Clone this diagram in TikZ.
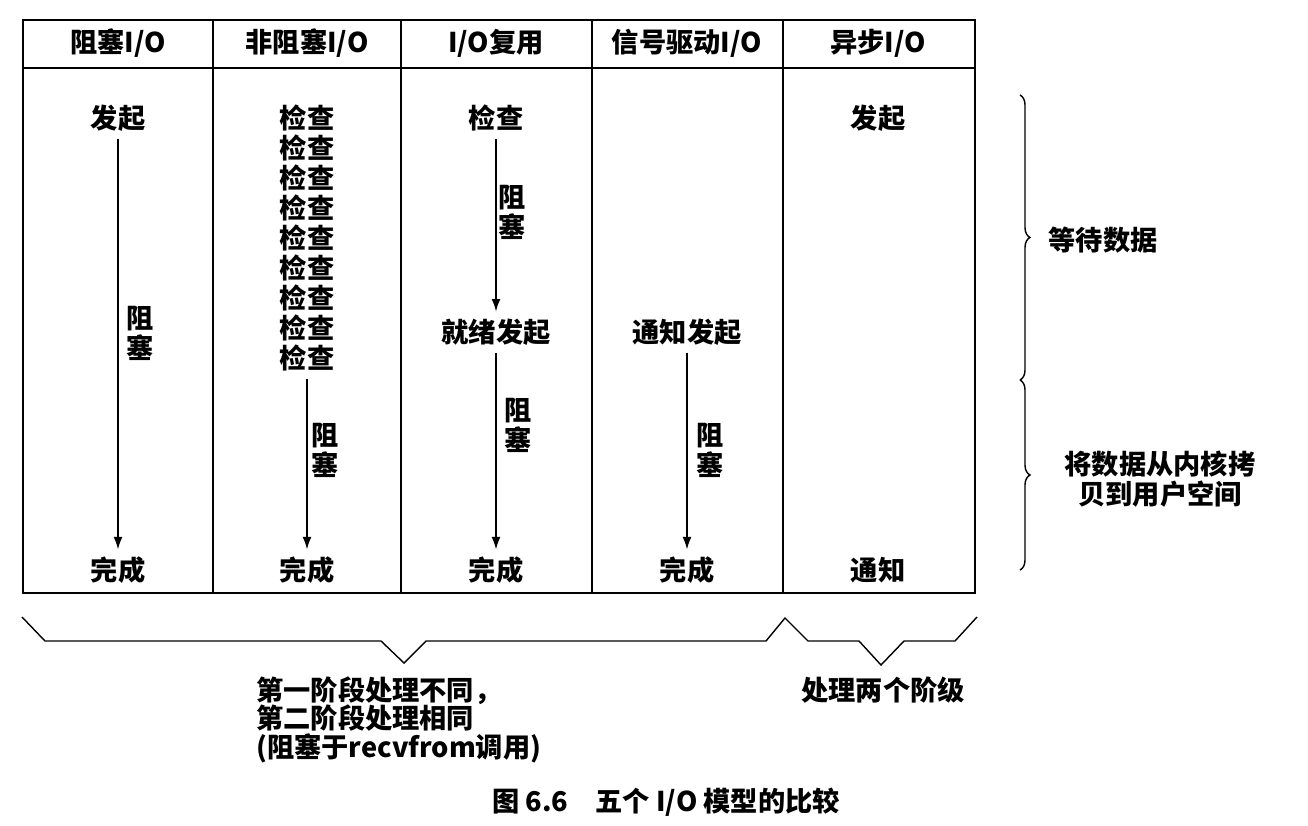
\documentclass[tikz,border=0pt]{standalone}
\usepackage{fontspec}
\setmainfont{Noto Sans CJK SC}
\usetikzlibrary{arrows.meta, decorations.pathreplacing}

\begin{document}
\begin{tikzpicture}[x=0.02cm,y=-0.02cm,
  txt/.style={inner sep=4pt,font=\bfseries\fontsize{15.5}{17}\selectfont},
  blk/.style={txt,align=center},
  flow/.style={-{Latex[length=7pt,width=5pt]},line width=0.6pt},
  frame/.style={line width=0.8pt}]

\useasboundingbox (0,0) rectangle (1308,825);

% Table
\draw[frame] (23,20) rectangle (975,593);
\draw[line width=1.7pt] (23,68) -- (975,68);
\foreach \x in {213,401,592,783} \draw[frame] (\x,20) -- (\x,593);

% Headers
\node[txt] (h1) at (118,43) {阻塞I/O};
\node[txt] (h2) at (307,43) {非阻塞I/O};
\node[txt] (h3) at (496,43) {I/O复用};
\node[txt] (h4) at (687,43) {信号驱动I/O};
\node[txt] (h5) at (878,43) {异步I/O};

% Blocking I/O
\node[txt] (blk1) at (118,118) {发起};
\node[txt] (blk2) at (118,570) {完成};
\draw[flow] (blk1) -- (blk2);
\node[blk] (wblk) at (140,333) {阻\\塞};

% Non-blocking I/O
\foreach \i in {1,...,9} \node[txt] (nb\i) at (307,{88+30*\i}) {检查};
\node[txt] (nbdone) at (307,570) {完成};
\draw[flow] (nb9) -- (nbdone);
\node[blk] (wnb) at (325,450) {阻\\塞};

% I/O multiplexing
\node[txt] (mx1) at (496,118) {检查};
\node[txt] (mx2) at (496,332) {就绪发起};
\node[txt] (mx3) at (496,570) {完成};
\draw[flow] (mx1) -- (mx2);
\draw[flow] (mx2) -- (mx3);
\node[blk] (wmx1) at (512,212) {阻\\塞};
\node[blk] (wmx2) at (518,425) {阻\\塞};

% Signal driven I/O
\node[txt] (sg1) at (687,332) {通知发起};
\node[txt] (sg2) at (687,570) {完成};
\draw[flow] (sg1) -- (sg2);
\node[blk] (wsg) at (710,450) {阻\\塞};

% Asynchronous I/O
\node[txt] (as1) at (878,118) {发起};
\node[txt] (as2) at (878,570) {通知};

% Phases on the right
\draw[frame,decorate,decoration={brace,amplitude=0.2cm}] (1020,95) -- (1020,380);
\draw[frame,decorate,decoration={brace,amplitude=0.2cm}] (1020,380) -- (1020,570);
\node[txt] (wait) at (1103,240) {等待数据};
\node[blk] (copy) at (1160,479) {将数据从内核拷\\贝到用户空间};

% Bottom braces
\draw[frame] (22,617) -- (45,641) -- (381,641) -- (404,663) -- (426,641) -- (766,641)
  -- (785,618) -- (808,641) -- (859,641) -- (881,665) -- (904,641) -- (955,641) -- (977,617);
\node[txt,align=left,anchor=north west,inner sep=0pt,
  font=\bfseries\fontsize{15.5}{16.4}\selectfont] (first) at (256,676)
  {第一阶段处理不同，\\第二阶段处理相同\\(阻塞于recvfrom调用)};
\node[txt] (both) at (883,690) {处理两个阶级};

% Caption
\node[txt] (cap) at (666,802) {图 6.6\quad 五个 I/O 模型的比较};

\end{tikzpicture}
\end{document}
